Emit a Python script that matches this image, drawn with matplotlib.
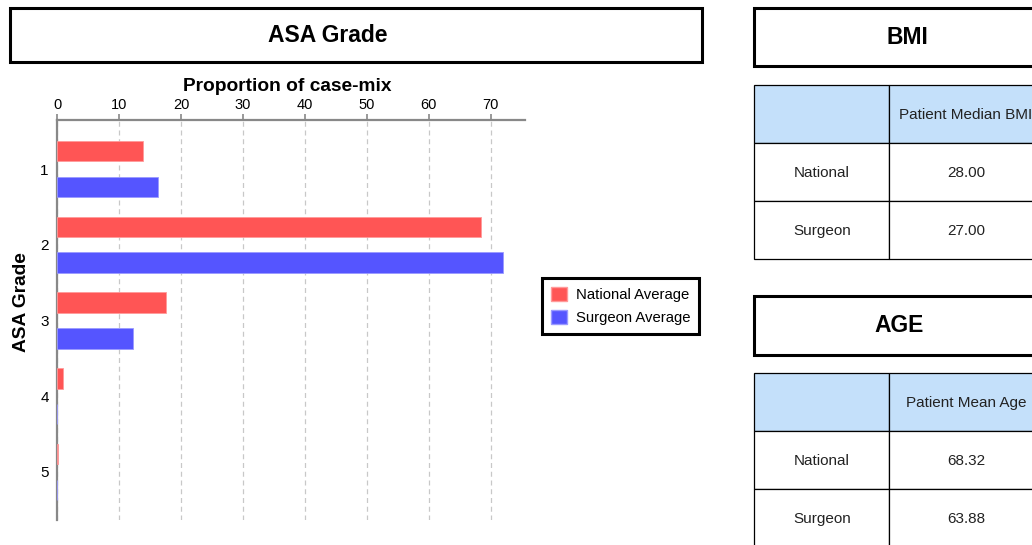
import matplotlib
matplotlib.use("Agg")
import matplotlib.pyplot as plt
from matplotlib.patches import Rectangle, Patch
import numpy as np

plt.rcParams['font.family'] = ['Liberation Sans', 'DejaVu Sans']

# ASA grade case-mix (%)
asa_grades = ['1', '2', '3', '4', '5']
national_avg = [13.8, 68.4, 17.6, 0.9, 0.1]
surgeon_avg = [16.3, 71.9, 12.3, 0.0, 0.0]
x_ticks = [0, 10, 20, 30, 40, 50, 60, 70]

# side tables
bmi_header = 'Patient Median BMI'
bmi_rows = ['National', 'Surgeon']
bmi_values = ['28.00', '27.00']
age_header = 'Patient Mean Age'
age_rows = ['National', 'Surgeon']
age_values = ['68.32', '63.88']

W, H = 1032, 545
red = '#FF5555'
blue = '#5555FF'
header_blue = '#C4E0FA'


def fx(x):
    return x / W


def fy(y):
    return 1 - y / H


def box(fig, x0, y0, x1, y1, lw=2.2, fc='white', ec='black'):
    fig.patches.append(Rectangle((fx(x0), fy(y1)), fx(x1) - fx(x0), fy(y0) - fy(y1),
                                 transform=fig.transFigure, fill=True, facecolor=fc,
                                 edgecolor=ec, linewidth=lw, clip_on=False))


def text(fig, x, y, s, **kw):
    fig.text(fx(x), fy(y), s, ha='center', va='center', **kw)


fig = plt.figure(figsize=(W / 100, H / 100), dpi=100)

# title box over the chart
box(fig, 10, 8, 702, 62)
text(fig, 328, 36, 'ASA Grade', fontsize=16.5, fontweight='bold')

# bar chart
ax = fig.add_axes([fx(57), fy(520), fx(525) - fx(57), fy(120) - fy(520)])
y = np.arange(1, len(asa_grades) + 1)
off = 0.236
bh = 0.273
ax.barh(y - off, national_avg, height=bh, color=red, edgecolor='#FF9A9A', linewidth=0.6,
        label='National Average', zorder=3)
ax.barh(y + off, surgeon_avg, height=bh, color=blue, edgecolor='#9A9AFF', linewidth=0.6,
        label='Surgeon Average', zorder=3)

ax.set_xlim(0, 75.5)
ax.set_ylim(5.634, 0.353)
ax.set_yticks(y)
ax.set_yticklabels(asa_grades, fontsize=11)
ax.set_xticks(x_ticks)
ax.xaxis.tick_top()
ax.xaxis.set_label_position('top')
ax.tick_params(axis='x', labelsize=10.5, length=4, width=1.2, color='#888888', pad=2)
ax.tick_params(axis='y', length=0, pad=6)
ax.set_xlabel('Proportion of case-mix', fontsize=13.75, fontweight='bold', labelpad=5)
ax.xaxis.label.set_x(0.491)
ax.set_ylabel('ASA Grade', fontsize=13.75, fontweight='bold')
ax.yaxis.set_label_coords(-0.057, 0.545)
for side in ['bottom', 'right']:
    ax.spines[side].set_visible(False)
for side in ['top', 'left']:
    ax.spines[side].set_color('#888888')
    ax.spines[side].set_linewidth(1.6)
ax.grid(axis='x', linestyle=(0, (4, 3)), color='#C8C8C8', linewidth=0.9, zorder=0)

handles = [Patch(facecolor=red, edgecolor='#FF9A9A'), Patch(facecolor=blue, edgecolor='#9A9AFF')]
leg = fig.legend(handles, ['National Average', 'Surgeon Average'], loc='center',
                 bbox_to_anchor=(fx(620.5), fy(306)), fontsize=10.75, frameon=True,
                 fancybox=False, edgecolor='black', framealpha=1, handlelength=1.1,
                 handleheight=1.1, handletextpad=0.6, borderpad=0.6, labelspacing=0.55,
                 borderaxespad=0)
leg.get_frame().set_linewidth(2.2)

# BMI panel
box(fig, 754, 8, 1070, 66)
text(fig, 907, 37, 'BMI', fontsize=16.5, fontweight='bold')
box(fig, 754, 85, 889, 143, lw=0.9, fc=header_blue)
box(fig, 889, 85, 1043, 143, lw=0.9, fc=header_blue)
text(fig, 966, 115, bmi_header, fontsize=11, color='#222222')
for i, (r, v) in enumerate(zip(bmi_rows, bmi_values)):
    y0 = 143 + 58 * i
    box(fig, 754, y0, 889, y0 + 58, lw=0.9)
    box(fig, 889, y0, 1043, y0 + 58, lw=0.9)
    text(fig, 822, y0 + 30, r, fontsize=11, color='#222222')
    text(fig, 966, y0 + 30, v, fontsize=11, color='#222222')

# AGE panel
box(fig, 754, 296, 1070, 355)
text(fig, 899, 325, 'AGE', fontsize=16.5, fontweight='bold')
box(fig, 754, 373, 889, 431, lw=0.9, fc=header_blue)
box(fig, 889, 373, 1043, 431, lw=0.9, fc=header_blue)
text(fig, 966, 403, age_header, fontsize=11, color='#222222')
for i, (r, v) in enumerate(zip(age_rows, age_values)):
    y0 = 431 + 58 * i
    box(fig, 754, y0, 889, y0 + 58, lw=0.9)
    box(fig, 889, y0, 1043, y0 + 58, lw=0.9)
    text(fig, 822, y0 + 30, r, fontsize=11, color='#222222')
    text(fig, 966, y0 + 30, v, fontsize=11, color='#222222')

fig.savefig('out.png', dpi=100)
